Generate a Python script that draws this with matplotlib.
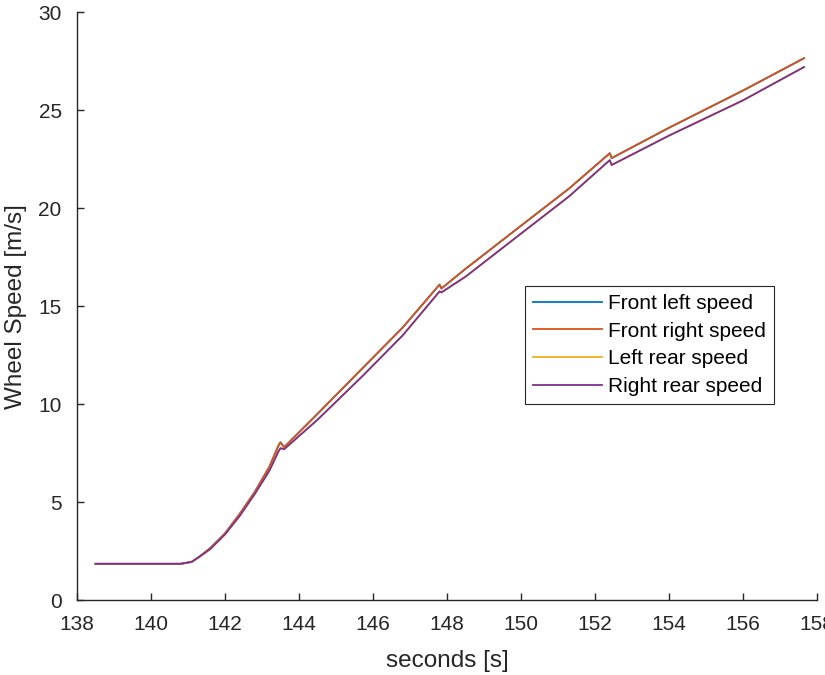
import matplotlib
matplotlib.use("Agg")
import matplotlib.pyplot as plt

# Sampled wheel speeds (time in seconds, speeds in m/s)
time_s = [138.5, 140.8, 141.1, 141.3, 141.6, 142.0, 142.4, 142.8, 143.2, 143.45,
          143.5, 143.6, 144.5, 145.7, 146.8, 147.8, 147.85, 148.5, 150.0, 151.3,
          152.4, 152.45, 154.0, 156.0, 157.65]
front_left = [1.85, 1.85, 1.95, 2.2, 2.65, 3.4, 4.4, 5.5, 6.8, 7.9,
              8.05, 7.8, 9.5, 11.8, 13.9, 16.1, 15.9, 16.9, 19.1, 21.0,
              22.8, 22.55, 24.1, 26.0, 27.65]
front_right = [1.85, 1.85, 1.95, 2.2, 2.65, 3.4, 4.4, 5.5, 6.8, 7.9,
               8.05, 7.8, 9.5, 11.8, 13.9, 16.1, 15.9, 16.9, 19.1, 21.0,
               22.8, 22.55, 24.1, 26.0, 27.65]
left_rear = [1.85, 1.85, 1.95, 2.2, 2.6, 3.35, 4.3, 5.4, 6.6, 7.6,
             7.75, 7.7, 9.2, 11.4, 13.5, 15.75, 15.7, 16.5, 18.7, 20.6,
             22.45, 22.2, 23.7, 25.5, 27.2]
right_rear = [1.85, 1.85, 1.95, 2.2, 2.6, 3.35, 4.3, 5.4, 6.6, 7.6,
              7.75, 7.7, 9.2, 11.4, 13.5, 15.75, 15.7, 16.5, 18.7, 20.6,
              22.45, 22.2, 23.7, 25.5, 27.2]

series_labels = ["Front left speed", "Front right speed", "Left rear speed", "Right rear speed"]
series_colors = ["#0072BD", "#D95319", "#EDB120", "#7E2F8E"]

x_ticks = [138, 140, 142, 144, 146, 148, 150, 152, 154, 156, 158]
y_ticks = [0, 5, 10, 15, 20, 25, 30]

plt.rcParams["font.family"] = ["Liberation Sans", "DejaVu Sans"]
text_color = "#262626"

fig = plt.figure(figsize=(8.25, 6.75), dpi=100)
ax = fig.add_axes([0.0933, 0.111, 0.897, 0.871])

for values, label, color in zip([front_left, front_right, left_rear, right_rear],
                                series_labels, series_colors):
    ax.plot(time_s, values, color=color, linewidth=1.3, label=label)

ax.set_xlim(138, 158)
ax.set_ylim(0, 30)
ax.set_xticks(x_ticks)
ax.set_yticks(y_ticks)

for side in ("top", "right"):
    ax.spines[side].set_visible(False)
for side in ("left", "bottom"):
    ax.spines[side].set_color(text_color)
    ax.spines[side].set_linewidth(1.0)

ax.tick_params(direction="in", length=5, width=1.0, colors=text_color,
               labelsize=15, pad=11)
ax.set_xlabel("seconds [s]", fontsize=17.5, color=text_color, labelpad=11)
ax.set_ylabel("Wheel Speed [m/s]", fontsize=17.5, color=text_color, labelpad=8)

leg = ax.legend(loc="upper left", bbox_to_anchor=(0.605, 0.535), fontsize=15,
                frameon=True, fancybox=False, framealpha=1, edgecolor=text_color,
                handlelength=3.3, handletextpad=0.3, borderpad=0.4,
                labelspacing=0.42, borderaxespad=0)
leg.get_frame().set_linewidth(0.8)
for t in leg.get_texts():
    t.set_color("#000000")

fig.savefig("out.png", dpi=100, facecolor="white")
